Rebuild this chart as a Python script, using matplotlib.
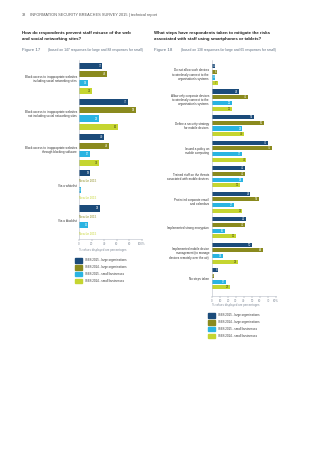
import numpy as np
import matplotlib.pyplot as plt
from matplotlib.patches import Patch

plt.rcParams['font.family'] = ['Liberation Sans', 'DejaVu Sans']

W, H = 320, 453

series = ["ISBS 2015 - large organisations", "ISBS 2014 - large organisations",
          "ISBS 2015 - small businesses", "ISBS 2014 - small businesses"]
colors = ["#1b4b7a", "#8a8a1e", "#2ab4e2", "#c5d530"]
value_colors = ["white", "white", "white", "#4a4a18"]
grey = "#7d8795"

# Figure 17
misuse_cats = ["Block access to inappropriate websites\nincluding social networking sites",
               "Block access to inappropriate websites\nnot including social networking sites",
               "Block access to inappropriate websites\nthrough blocking software",
               "Via a whitelist",
               "Via a blacklist"]
misuse_large_2015 = [37, 77, 40, 18, 33]
misuse_large_2014 = [44, 90, 48, None, None]
misuse_small_2015 = [14, 32, 17, 3, 15]
misuse_small_2014 = [21, 62, 31, None, None]
misuse_ticks = [0, 20, 40, 60, 80, 100]
misuse_ticklabels = ["0", "20", "40", "60", "80", "100%"]

# Figure 18
mobile_cats = ["Do not allow such devices\nto wirelessly connect to the\norganisation's systems",
               "Allow only corporate devices\nto wirelessly connect to the\norganisation's systems",
               "Define a security strategy\nfor mobile devices",
               "Issued a policy on\nmobile computing",
               "Trained staff on the threats\nassociated with mobile devices",
               "Protected corporate email\nand calendars",
               "Implemented strong encryption",
               "Implemented mobile device\nmanagement (to manage\ndevices remotely over the air)",
               "No steps taken"]
mobile_large_2015 = [4, 34, 52, 70, 41, 48, 42, 50, 8]
mobile_large_2014 = [6, 45, 65, 75, 41, 59, 41, 64, 3]
mobile_small_2015 = [4, 25, 38, 37, 39, 27, 16, 14, 17]
mobile_small_2014 = [7, 25, 40, 43, 35, 38, 30, 32, 22]
mobile_ticks = [0, 10, 20, 30, 40, 50, 60, 70, 80]
mobile_ticklabels = ["0", "10", "20", "30", "40", "50", "60", "70", "80%"]


def px_axes(fig, x0, x1, y0, y1):
    return fig.add_axes([x0 / W, 1 - y1 / H, (x1 - x0) / W, (y1 - y0) / H])


def draw_bars(ax, cats, data, gpitch, ylim, xmax, ticks, ticklabels, lab_gap):
    n = len(cats)
    base = np.arange(n) * gpitch
    for s, vals in enumerate(data):
        for g, v in enumerate(vals):
            y = base[g] + s
            if v is None:
                ax.text(0.5, y, "New for 2015", color=colors[s], fontsize=2.1,
                        va="center", ha="left")
                continue
            ax.barh(y, v, height=0.72, color=colors[s])
            ax.annotate(str(v), (v, y), xytext=(-0.6, 0), textcoords="offset points",
                        ha="right", va="center", fontsize=2.0, color=value_colors[s])
    for g, c in enumerate(cats):
        ax.text(-lab_gap, base[g] + 1.5, c, transform=ax.get_yaxis_transform(),
                ha="right", va="center", fontsize=2.2, color="#333333", linespacing=1.1)
    ax.set_ylim(*ylim)
    ax.set_xlim(0, xmax)
    ax.set_xticks(ticks)
    ax.set_xticklabels(ticklabels)
    ax.set_yticks([])
    ax.tick_params(axis="x", labelsize=2.1, colors=grey, length=1.2, width=0.3, pad=1)
    for sp in ["top", "right"]:
        ax.spines[sp].set_visible(False)
    for sp in ["left", "bottom"]:
        ax.spines[sp].set_color("#b8bec8")
        ax.spines[sp].set_linewidth(0.4)


fig = plt.figure(figsize=(W / 100, H / 100), dpi=100)

# header and titles
fig.text(22 / W, 1 - 15 / H, "38", fontsize=2.8, color="#555555", va="center")
fig.text(30 / W, 1 - 15 / H, "INFORMATION SECURITY BREACHES SURVEY 2015 | technical report",
         fontsize=2.75, color="#555555", va="center")
fig.text(22 / W, 1 - 36 / H, "How do respondents prevent staff misuse of the web\nand social networking sites?",
         fontsize=3.15, fontweight="bold", color="#222222", va="center", linespacing=1.45)
fig.text(154 / W, 1 - 36 / H, "What steps have respondents taken to mitigate the risks\nassociated with staff using smartphones or tablets?",
         fontsize=3.15, fontweight="bold", color="#222222", va="center", linespacing=1.45)
fig.text(22 / W, 1 - 50 / H, "Figure 17", fontsize=3.2, color="#5b6b7d", va="center")
fig.text(48 / W, 1 - 50 / H, "(based on 147 responses for large and 88 responses for small)",
         fontsize=2.4, color="#5b6b7d", va="center")
fig.text(154 / W, 1 - 50 / H, "Figure 18", fontsize=3.2, color="#5b6b7d", va="center")
fig.text(181 / W, 1 - 50 / H, "(based on 138 responses for large and 65 responses for small)",
         fontsize=2.4, color="#5b6b7d", va="center")

# left chart
ax1 = px_axes(fig, 79, 142, 60, 239)
draw_bars(ax1, misuse_cats,
          [misuse_large_2015, misuse_large_2014, misuse_small_2015, misuse_small_2014],
          4.2, (4 * 4.2 + 3 + 0.6, -0.7), 100, misuse_ticks, misuse_ticklabels, 2 / 63)
fig.text(79 / W, 1 - 250 / H, "% values displayed are percentages", fontsize=2.1, color=grey, va="center")

# right chart
ax2 = px_axes(fig, 212, 276, 60, 296)
draw_bars(ax2, mobile_cats,
          [mobile_large_2015, mobile_large_2014, mobile_small_2015, mobile_small_2014],
          4.45, (8 * 4.45 + 3 + 1.5, -1.05), 80, mobile_ticks, mobile_ticklabels, 3 / 64)
fig.text(212 / W, 1 - 305 / H, "% values displayed are percentages", fontsize=2.1, color=grey, va="center")

handles = [Patch(color=c) for c in colors]
for x, y in [(79, 258), (212, 313)]:
    fig.legend(handles, series, loc="upper left", bbox_to_anchor=(x / W - 0.011, 1 - y / H),
               frameon=False, fontsize=2.1, handlelength=2.1, handleheight=2.1,
               handletextpad=1.1, labelspacing=0.75, borderaxespad=0, borderpad=0,
               labelcolor="#333333")

fig.savefig("out.png", dpi=100)
